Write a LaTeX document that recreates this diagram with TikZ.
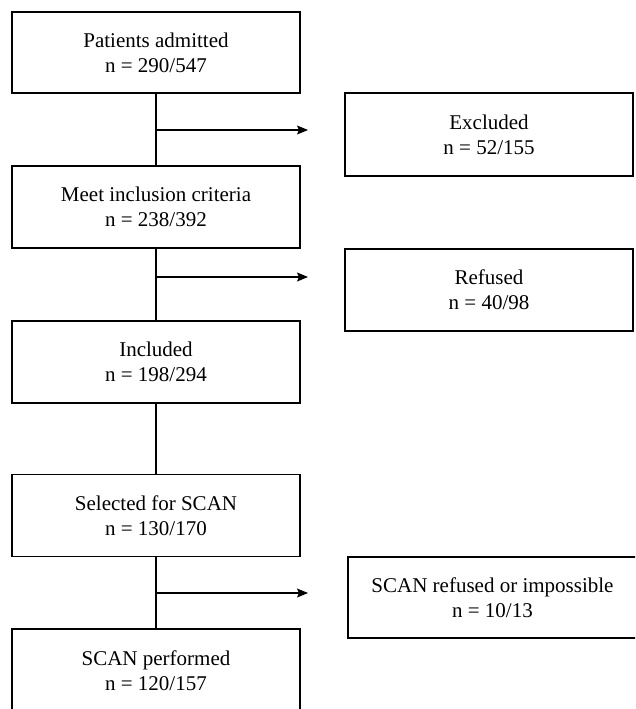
\documentclass[tikz,border=0pt]{standalone}
\usepackage{fontspec}
\setmainfont{Liberation Serif}
\usetikzlibrary{arrows.meta}
\begin{document}
\begin{tikzpicture}[
        x=1pt, y=-1pt,
        stagebox/.style={draw, line width=1.4pt, minimum width=288pt, minimum height=82pt,
            inner sep=0pt, align=center, font=\fontsize{21}{25}\selectfont},
        flow/.style={line width=1.1pt},
        branch/.style={line width=1.1pt, -{Stealth[length=11pt, width=9pt, inset=2pt]}},
    ]
    \useasboundingbox (0,0) rectangle (635,709);
    \clip (0,0) rectangle (635,709);
    \node[stagebox, minimum height=81pt] (admitted) at (156,52.5) {Patients admitted\\n = 290/547};
    \node[stagebox] (criteria) at (156,207) {Meet inclusion criteria\\n = 238/392};
    \node[stagebox] (included) at (156,362) {Included\\n = 198/294};
    \node[stagebox] (selected) at (156,515.5) {Selected for SCAN\\n = 130/170};
    \node[stagebox, minimum height=84pt] (performed) at (156,671) {SCAN performed\\n = 120/157};
    \node[stagebox, minimum height=83pt] (excluded) at (489,134.5) {Excluded\\n = 52/155};
    \node[stagebox] (refused) at (489,290) {Refused\\n = 40/98};
    \node[stagebox, minimum width=289pt, minimum height=81pt] (impossible) at (492.5,597.5) {SCAN refused or impossible\\n = 10/13};
    \draw[flow] (admitted) -- (criteria);
    \draw[flow] (criteria) -- (included);
    \draw[flow] (included) -- (selected);
    \draw[flow] (selected) -- (performed);
    \coordinate (split1) at (156,130);
    \coordinate (split2) at (156,277);
    \coordinate (split3) at (156,593);
    \coordinate (tip1) at (308,130);
    \coordinate (tip2) at (308,277);
    \coordinate (tip3) at (308,593);
    \draw[branch] (split1) -- (tip1);
    \draw[branch] (split2) -- (tip2);
    \draw[branch] (split3) -- (tip3);
\end{tikzpicture}
\end{document}
